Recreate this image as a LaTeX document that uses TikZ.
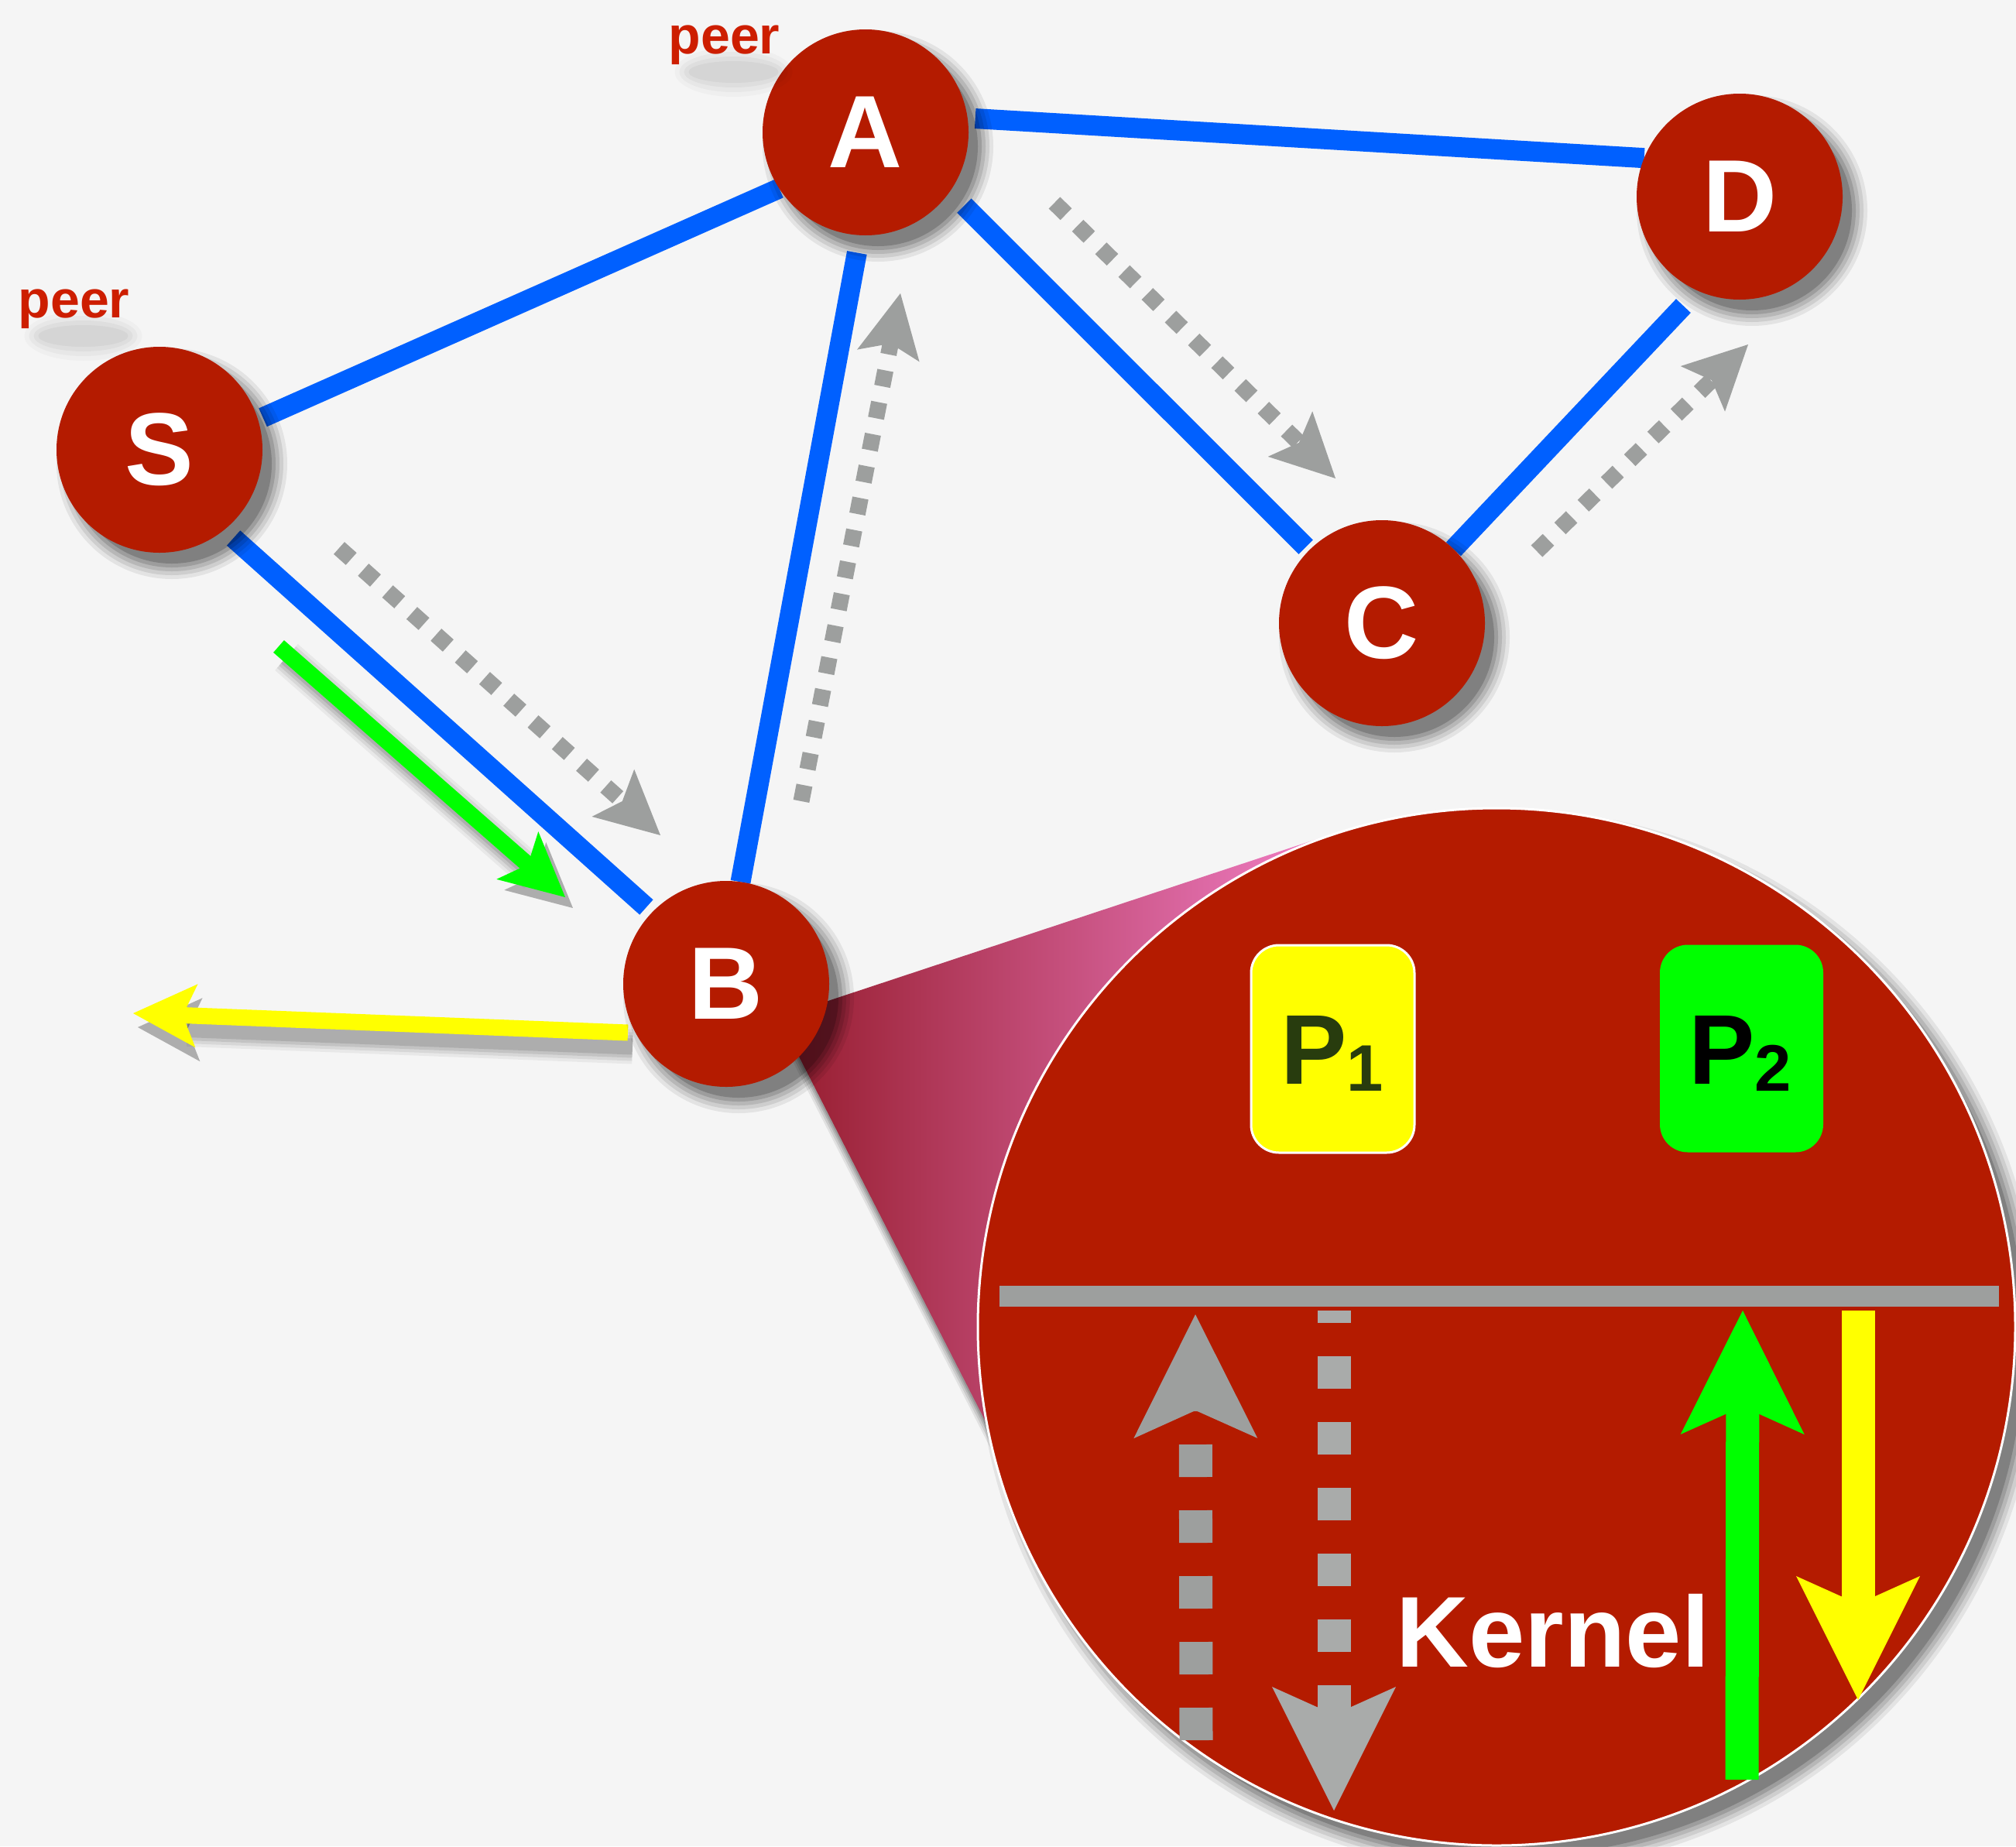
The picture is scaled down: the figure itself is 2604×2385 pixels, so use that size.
\documentclass[tikz,border=0pt]{standalone}
\usepackage{fontspec}
\setmainfont{Liberation Sans}
\usetikzlibrary{arrows.meta,calc}
\definecolor{bgc}{RGB}{245,245,245}
\definecolor{nodered}{RGB}{180,27,0}
\definecolor{peerred}{RGB}{205,30,0}
\definecolor{linkblue}{RGB}{0,96,255}
\definecolor{dotgray}{RGB}{157,159,158}
\definecolor{dotgrayl}{RGB}{169,171,170}
\definecolor{pgreen}{RGB}{0,255,0}
\definecolor{pyellow}{RGB}{255,255,0}
\definecolor{ptxt}{RGB}{40,60,14}
\definecolor{conedark}{RGB}{150,28,45}
\definecolor{conepink}{RGB}{242,128,200}
\pgfdeclarelayer{back}\pgfdeclarelayer{links}
\pgfsetlayers{back,links,main}
\newcommand{\blobshadow}[2]{%
  \foreach \kk/\op in {16/0.07,11/0.09,6/0.11,1/0.14,-4/0.18}{
    \fill[black,opacity=\op] ($(#1)+(16,18)$) circle[radius={(#2+\kk)*1pt}];
  }}
\newcommand{\textshadow}[1]{%
  \foreach \kk/\op in {18/0.025,12/0.03,6/0.035,0/0.04}{
    \fill[black,opacity=\op] ($(#1)+(12,24)$) ellipse[x radius={(58+\kk)*1pt}, y radius={(14+\kk)*1pt}];
  }}
\newcommand{\psub}[1]{\raisebox{-9pt}{\fontsize{85}{85}\selectfont #1}}
\tikzset{
  peernode/.style={circle, fill=nodered, minimum size=266pt, inner sep=0pt, outer sep=0pt,
    text=white, font=\fontsize{133}{133}\selectfont\bfseries},
  link/.style={draw=linkblue, line width=26pt},
  dotarrow/.style={draw=dotgray, line width=21pt, dash pattern=on 21pt off 21pt,
    -{Stealth[length=82pt,width=82pt,inset=16pt,line width=0pt]}},
  solidarrow/.style={line width=21pt, -{Stealth[length=82pt,width=82pt,inset=18pt,line width=0pt]}},
  bigarrow/.style={line width=43pt, -{Stealth[length=160pt,width=160pt,inset=36pt,line width=0pt]}},
  peerlabel/.style={text=peerred, font=\fontsize{68}{68}\selectfont\bfseries, anchor=base, inner sep=0pt},
  pbox/.style={rounded corners=36pt, minimum width=211pt, minimum height=268pt, inner sep=0pt},
  ptext/.style={anchor=base west, inner sep=0pt, font=\fontsize{128}{128}\selectfont\bfseries},
}
\begin{document}
\begin{tikzpicture}[x=1pt,y=-1pt]
\begin{pgfonlayer}{back}
\fill[bgc] (0,0) rectangle (2604,2385);
\end{pgfonlayer}
\useasboundingbox (0,0) rectangle (2604,2385);

% centres
\coordinate (cS) at (206,581);
\coordinate (cA) at (1118,171);
\coordinate (cD) at (2247,254);
\coordinate (cC) at (1785,805);
\coordinate (cB) at (938,1271);
\coordinate (cZ) at (1933,1714);

% peer nodes
\blobshadow{cS}{133}
\blobshadow{cA}{133}
\blobshadow{cD}{133}
\blobshadow{cC}{133}
\node[peernode] (S) at (cS) {S};
\node[peernode] (A) at (cA) {A};
\node[peernode] (D) at (cD) {D};
\node[peernode] (C) at (cC) {C};

% peer labels
\coordinate (pA) at (935.5,69);
\coordinate (pS) at (95.5,410);
\textshadow{pA}
\textshadow{pS}
\node[peerlabel] (peerA) at (pA) {peer};
\node[peerlabel] (peerS) at (pS) {peer};

% cone
\coordinate (apex) at (1006,1314);
\coordinate (t1) at (1722,1077);
\coordinate (mid) at (1500,1500);
\coordinate (low) at (1300,1889);
\foreach \dy/\op in {22/0.08,16/0.1,10/0.12,5/0.14}{
  \fill[black,opacity=\op] ($(apex)+(0,\dy)$) -- ($(t1)+(0,\dy)$) -- ($(mid)+(0,\dy)$) -- ($(low)+(0,\dy)$) -- cycle;
}
\shade[left color=conedark, right color=conepink] (apex) -- (t1) -- (mid) -- (low) -- cycle;

% zoom circle
\blobshadow{cZ}{670}
\node[circle, fill=nodered, draw=white, line width=3pt, minimum size=1340pt, inner sep=0pt] (zoom) at (cZ) {};
\node[pbox, fill=pyellow, draw=white, line width=3pt] (p1) at (1721.5,1355) {};
\node[pbox, fill=pgreen] (p2) at (2249.5,1354.5) {};
\node[ptext, text=ptxt] (p1t) at (1654,1400) {P\psub{1}};
\node[ptext, text=black] (p2t) at (2181,1400) {P\psub{2}};
\coordinate (barL) at (1291,1674);
\coordinate (barR) at (2582,1674);
\draw[dotgray, line width=27pt] (barL) -- (barR);
\coordinate (gu1) at (1545,2248); \coordinate (gu2) at (1544,1698);
\coordinate (gd1) at (1723,1693); \coordinate (gd2) at (1723,2339);
\coordinate (grn1) at (2250,2299); \coordinate (grn2) at (2251,1693);
\coordinate (yel1) at (2400,1693); \coordinate (yel2) at (2400,2196);
\draw[bigarrow, dotgray, dash pattern=on 42pt off 43pt] (gu1) -- (gu2);
\draw[bigarrow, dotgrayl, dash pattern=on 42pt off 43pt, dash phase=26pt] (gd1) -- (gd2);
\draw[bigarrow, pgreen] (grn1) -- (grn2);
\draw[bigarrow, pyellow] (yel1) -- (yel2);
\node[text=white, font=\fontsize{130}{130}\selectfont\bfseries, anchor=base, inner sep=0pt] (kernel) at (2006,2153) {Kernel};

% node B on top
\blobshadow{cB}{133}
\node[peernode] (B) at (cB) {B};

% links and flows
\begin{pgfonlayer}{links}
\draw[link, shorten <=7pt] (S.17) -- (A.213);
\draw[link, shorten <=10pt] (A.8) -- (D.158);
\draw[link, shorten <=26pt, shorten >=6pt] (A.-35) -- (C.135);
\draw[link, shorten <=23pt] (A.267) -- (B.82);
\draw[link, shorten <=16pt, shorten >=10pt] (S.309) -- (B.136);
\draw[link, shorten <=27pt] (D.246) -- (C.46);

\coordinate (sb1) at (438,708); \coordinate (sb2) at (853,1079);
\coordinate (ba1) at (1035,1035); \coordinate (ba2) at (1163,379);
\coordinate (ac1) at (1362,262); \coordinate (ac2) at (1725,618);
\coordinate (cd1) at (1985,712); \coordinate (cd2) at (2258,445);
\draw[dotarrow] (sb1) -- (sb2);
\draw[dotarrow] (ba1) -- (ba2);
\draw[dotarrow] (ac1) -- (ac2);
\draw[dotarrow] (cd1) -- (cd2);

\coordinate (g1) at (360,835); \coordinate (g2) at (730,1159);
\coordinate (y1) at (811,1334); \coordinate (y2) at (172,1309);
\foreach \ww/\op in {24/0.05,16/0.07,8/0.09,0/0.11}{
  \draw[solidarrow, black, opacity=\op, line width={(21+\ww)*1pt}] ($(g1)+(10,14)$) -- ($(g2)+(10,14)$);
  \draw[solidarrow, black, opacity=\op, line width={(21+\ww)*1pt}] ($(y1)+(6,18)$) -- ($(y2)+(6,18)$);
}
\draw[solidarrow, pgreen] (g1) -- (g2);
\draw[solidarrow, pyellow] (y1) -- (y2);
\end{pgfonlayer}
\end{tikzpicture}
\end{document}
